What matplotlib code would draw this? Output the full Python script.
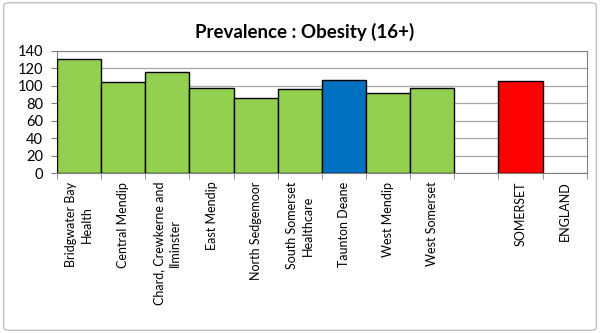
import numpy as np
import matplotlib
matplotlib.use("Agg")
import matplotlib.pyplot as plt
from matplotlib.patches import FancyBboxPatch

plt.rcParams['font.family'] = ['Lato', 'DejaVu Sans']

# data
labels = ["Bridgwater Bay\nHealth", "Central Mendip", "Chard, Crewkerne and\nIlminster",
          "East Mendip", "North Sedgemoor", "South Somerset\nHealthcare", "Taunton Deane",
          "West Mendip", "West Somerset", "", "SOMERSET", "ENGLAND"]
values = [131, 104, 116, 98, 86, 96, 107, 92, 97, np.nan, 105, np.nan]
colours = ["#92D050"] * 6 + ["#0070C0"] + ["#92D050"] * 2 + ["#FFFFFF", "#FF0000", "#FFFFFF"]
yticks = [0, 20, 40, 60, 80, 100, 120, 140]

fig = plt.figure(figsize=(6, 3.33), dpi=100)
ax = fig.add_axes([0.095, 0.4796, 0.883, 0.368])

x = np.arange(len(labels))
ax.bar(x, values, width=1.0, color=colours, edgecolor="black", linewidth=1.0, zorder=3)

ax.set_xlim(-0.5, len(labels) - 0.5)
ax.set_ylim(0, 140)
ax.set_yticks(yticks)
ax.yaxis.grid(True, color="#A6A6A6", linewidth=0.9, zorder=0)
ax.tick_params(axis="y", labelsize=10.5, length=4, color="#808080", pad=6)

ax.set_xticks(x)
ax.set_xticklabels(labels, rotation=90, fontsize=9, ha="center", va="top",
                   multialignment="center", linespacing=1.35)
ax.tick_params(axis="x", length=0, pad=6)
ax.set_xticks(np.arange(-0.5, len(labels)), minor=True)
ax.tick_params(axis="x", which="minor", length=4, color="#808080")

for s in ["left", "bottom", "top", "right"]:
    ax.spines[s].set_color("#808080")

fig.text(0.508, 0.905, "Prevalence : Obesity (16+)", ha="center", va="center",
         fontsize=13.5, fontweight="bold")

border = FancyBboxPatch((0.006, 0.008), 0.988, 0.984, boxstyle="round,pad=0,rounding_size=0.01",
                        transform=fig.transFigure, fill=False, edgecolor="#BFBFBF", linewidth=1)
fig.patches.append(border)

fig.savefig("out.png", dpi=100)
